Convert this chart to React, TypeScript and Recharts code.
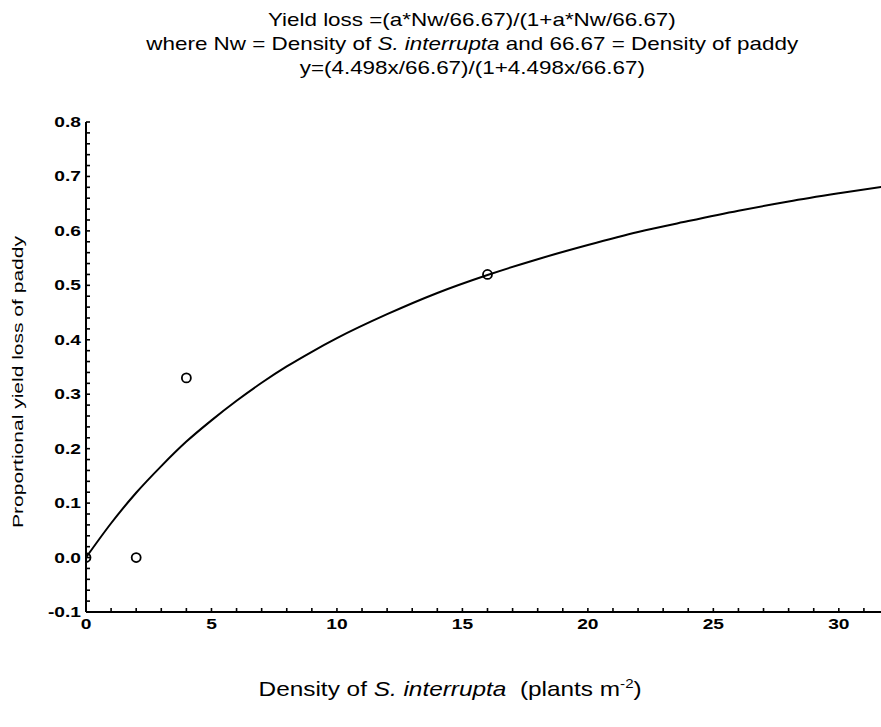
import React from 'react';
import { ComposedChart, Line, Scatter, XAxis, YAxis } from 'recharts';

// Fitted rectangular-hyperbola yield-loss curve (density vs proportional loss)
const curveX = [0, 1, 2, 3, 4, 5, 6, 7, 8, 9, 10, 12, 14, 16, 18, 20, 22, 24, 26, 28, 30, 32];
const curveY = [0, 0.063, 0.119, 0.168, 0.213, 0.252, 0.288, 0.321, 0.351, 0.378, 0.403, 0.447, 0.486, 0.519, 0.548, 0.574, 0.598, 0.618, 0.637, 0.654, 0.669, 0.683];

// Observed yield losses
const obsX = [0, 2, 4, 16];
const obsY = [0.0, 0.0, 0.33, 0.52];

// Axis ticks
const xMajorTicks = [0, 5, 10, 15, 20, 25, 30];
const xMinorTicks = [0, 1, 2, 3, 4, 5, 6, 7, 8, 9, 10, 11, 12, 13, 14, 15, 16, 17, 18, 19, 20, 21, 22, 23, 24, 25, 26, 27, 28, 29, 30, 31, 32];
const yMajorTicks = [-0.1, 0.0, 0.1, 0.2, 0.3, 0.4, 0.5, 0.6, 0.7, 0.8];

const titleLines = [
  'Yield loss =(a*Nw/66.67)/(1+a*Nw/66.67)',
  'y=(4.498x/66.67)/(1+4.498x/66.67)',
];

const curveData = curveX.map((x, i) => ({ x, y: curveY[i] }));
const obsData = obsX.map((x, i) => ({ x, y: obsY[i] }));

// minor y ticks every 0.02 between -0.1 and 0.8
const yMinorTicks: number[] = [];
for (let i = 0; i <= 45; i++) yMinorTicks.push(Math.round((-0.1 + i * 0.02) * 100) / 100);

const FONT = '"Liberation Sans", Arial, Helvetica, sans-serif';
const WIDE = 1.28; // horizontal stretch of the lettering

const isMajorX = (v: number) => xMajorTicks.includes(v);
const isMajorY = (v: number) => yMajorTicks.some((t) => Math.abs(t - v) < 1e-6);

const BottomTick = (props: any) => {
  const { x, y, payload } = props;
  const v = payload.value;
  return (
    <g>
      <line x1={x} y1={y} x2={x} y2={y - 4} stroke="#000" strokeWidth={1.6} />
      {isMajorX(v) && (
        <text
          transform={`translate(${x},${y + 17}) scale(${WIDE},1)`}
          textAnchor="middle"
          fontFamily={FONT}
          fontWeight="bold"
          fontSize={15}
          fill="#000"
        >
          {v}
        </text>
      )}
    </g>
  );
};

const TopTick = (props: any) => {
  const { x, y } = props;
  return <line x1={x} y1={y} x2={x} y2={y + 4} stroke="#000" strokeWidth={1.6} />;
};

const LeftTick = (props: any) => {
  const { x, y, payload } = props;
  const v = payload.value;
  return (
    <g>
      <line x1={x} y1={y} x2={x + 4} y2={y} stroke="#000" strokeWidth={1.6} />
      {isMajorY(v) && (
        <text
          transform={`translate(${x - 5},${y + 5}) scale(${WIDE},1)`}
          textAnchor="end"
          fontFamily={FONT}
          fontWeight="bold"
          fontSize={15}
          fill="#000"
        >
          {v.toFixed(1)}
        </text>
      )}
    </g>
  );
};

const OpenCircle = (props: any) => {
  const { cx, cy } = props;
  return <circle cx={cx} cy={cy} r={4.5} fill="none" stroke="#000" strokeWidth={1.8} />;
};

const titleLineStyle: React.CSSProperties = {
  display: 'inline-block',
  transform: 'scaleX(1.18)',
  transformOrigin: 'center',
  whiteSpace: 'nowrap',
};

export default function App() {
  return (
    <div style={{ position: 'absolute', left: 0, top: 0, width: 881, height: 727, overflow: 'hidden', background: '#fff', fontFamily: FONT }}>
      <div style={{ position: 'absolute', left: 72, top: 8, width: 800, textAlign: 'center', fontSize: 19, lineHeight: '24px', color: '#000' }}>
        <div><span style={titleLineStyle}>{titleLines[0]}</span></div>
        <div>
          <span style={titleLineStyle}>
            where Nw = Density of <i>S. interrupta</i> and 66.67 = Density of paddy
          </span>
        </div>
        <div><span style={titleLineStyle}>{titleLines[1]}</span></div>
      </div>

      <ComposedChart width={900} height={727} margin={{ top: 122, right: 11, bottom: 0, left: 0 }}>
        <XAxis
          xAxisId="bottom"
          type="number"
          dataKey="x"
          domain={[0, 32]}
          ticks={xMinorTicks}
          interval={0}
          allowDataOverflow
          height={115}
          tickSize={0}
          tickMargin={0}
          tickLine={false}
          tick={<BottomTick />}
          axisLine={{ stroke: '#000', strokeWidth: 2 }}
        />
        <XAxis
          xAxisId="top"
          orientation="top"
          type="number"
          dataKey="x"
          domain={[0, 32]}
          ticks={xMinorTicks}
          interval={0}
          allowDataOverflow
          height={0}
          tickSize={0}
          tickMargin={0}
          tickLine={false}
          tick={<TopTick />}
          axisLine={{ stroke: '#000', strokeWidth: 2 }}
        />
        <YAxis
          yAxisId="left"
          type="number"
          dataKey="y"
          domain={[-0.1, 0.8]}
          ticks={yMinorTicks}
          interval={0}
          allowDataOverflow
          width={86}
          tickSize={0}
          tickMargin={0}
          tickLine={false}
          tick={<LeftTick />}
          axisLine={{ stroke: '#000', strokeWidth: 2 }}
        />
        <Line
          xAxisId="bottom"
          yAxisId="left"
          data={curveData}
          dataKey="y"
          type="monotone"
          stroke="#000"
          strokeWidth={2}
          dot={false}
          isAnimationActive={false}
        />
        <Scatter
          xAxisId="bottom"
          yAxisId="left"
          data={obsData}
          dataKey="y"
          shape={<OpenCircle />}
          isAnimationActive={false}
        />
      </ComposedChart>

      <div
        style={{
          position: 'absolute',
          left: 18,
          top: 382,
          transform: 'translate(-50%, -50%) rotate(-90deg) scaleX(1.5)',
          whiteSpace: 'nowrap',
          fontSize: 14,
          color: '#000',
        }}
      >
        Proportional yield loss of paddy
      </div>

      <div style={{ position: 'absolute', left: 0, top: 676, width: 900, textAlign: 'center', fontSize: 21, color: '#000', whiteSpace: 'nowrap' }}>
        <span style={{ display: 'inline-block', transform: 'scaleX(1.16)', transformOrigin: 'center' }}>
          Density of <i>S. interrupta</i>&nbsp;&nbsp;(plants m<sup style={{ fontSize: 13 }}>-2</sup>)
        </span>
      </div>
    </div>
  );
}
